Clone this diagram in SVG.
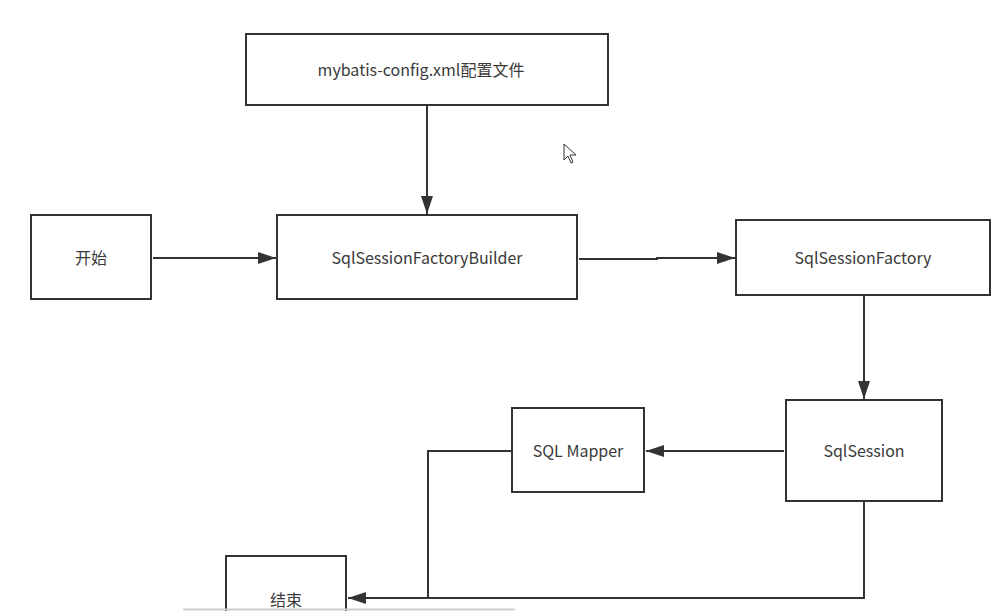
<svg xmlns="http://www.w3.org/2000/svg" width="1001" height="611" viewBox="0 0 1001 611">
<defs>
<style>
.box{fill:#fff;stroke:#333;stroke-width:2}
.lbl{font-family:"Noto Sans CJK SC","Noto Sans",sans-serif;font-size:16px;fill:#3a3a3a;text-anchor:middle;dominant-baseline:central}
.con{fill:none;stroke:#333;stroke-width:2}
</style>
<marker id="ah" markerWidth="20" markerHeight="14" refX="18" refY="6" orient="auto" markerUnits="userSpaceOnUse">
<path d="M0,0 L18,6 L0,12 Z" fill="#333"/>
</marker>
</defs>
<rect width="1001" height="611" fill="#fff"/>
<g id="connectors">
<path class="con" d="M427,106 V214" marker-end="url(#ah)"/>
<path class="con" d="M153,258 H276" marker-end="url(#ah)"/>
<path class="con" d="M579,259 H657 V258 H735" marker-end="url(#ah)"/>
<path class="con" d="M864,296 V399" marker-end="url(#ah)"/>
<path class="con" d="M784,451 H646" marker-end="url(#ah)"/>
<path class="con" d="M512,451 H428 V598"/>
<path class="con" d="M864,502 V598 H348" marker-end="url(#ah)"/>
</g>
<g id="config"><rect class="box" x="246" y="34" width="362" height="71"/><text class="lbl" x="421" y="69">mybatis-config.xml配置文件</text></g>
<g id="start"><rect class="box" x="31" y="215" width="120" height="84"/><text class="lbl" x="91" y="257">开始</text></g>
<g id="builder"><rect class="box" x="277" y="215" width="300" height="84"/><text class="lbl" x="427" y="257">SqlSessionFactoryBuilder</text></g>
<g id="factory"><rect class="box" x="736" y="220" width="254" height="75"/><text class="lbl" x="863" y="257">SqlSessionFactory</text></g>
<g id="session"><rect class="box" x="786" y="400" width="156" height="101"/><text class="lbl" x="864" y="450">SqlSession</text></g>
<g id="mapper"><rect class="box" x="512" y="408" width="132" height="84"/><text class="lbl" x="578" y="450">SQL Mapper</text></g>
<g id="end"><rect class="box" x="226" y="556" width="120" height="70"/><text class="lbl" x="286" y="599">结束</text></g>
<line x1="183" y1="609.5" x2="515" y2="609.5" stroke="#ccc" stroke-width="2"/>
<path d="M564,144 V160 L568,156 L571,163 L573,162 L570,155 L576,155 Z" fill="#fff" stroke="#333" stroke-width="1"/>
</svg>
